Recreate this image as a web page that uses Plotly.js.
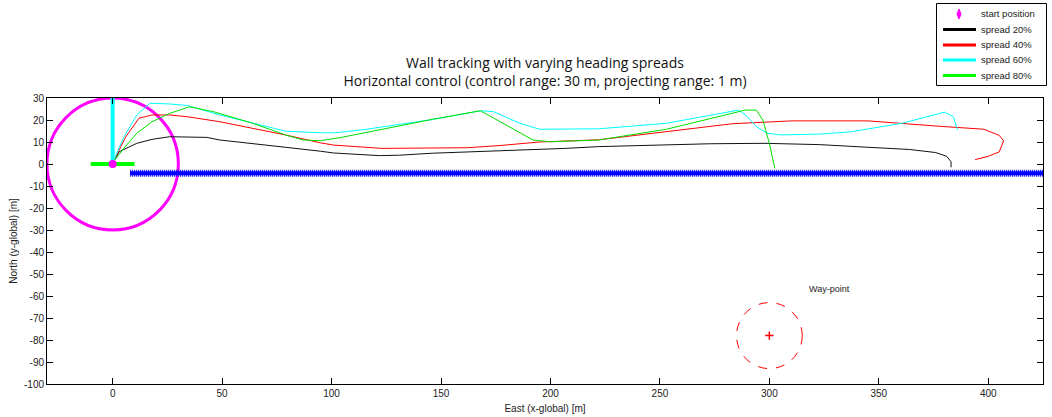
<!DOCTYPE html>
<html>
<head>
<meta charset="utf-8">
<script src="https://cdn.plot.ly/plotly-3.0.1.min.js"></script>
<style>html,body{margin:0;padding:0;background:#fff;}#chart{width:1052px;height:417px;}</style>
</head>
<body>
<div id="chart"></div>
<script>
// ---- data ----
const startX = [0];
const startY = [0];

const black20X = [0, 3, 11, 18, 26, 34, 43, 49, 64, 79, 95, 101, 122, 131, 146, 168, 192, 207, 222, 233, 273, 298, 323, 345, 364, 376, 381, 383, 383];
const black20Y = [0.5, 5.6, 9.4, 11.2, 12.4, 12.4, 12.1, 10.9, 9.4, 7.6, 5.8, 5.0, 3.8, 4.0, 4.9, 5.6, 6.4, 7.1, 7.9, 8.2, 9.2, 9.4, 8.8, 7.6, 6.6, 5.2, 3.5, 1.0, -1.5];

const red40X = [0, 6, 12, 18, 26, 34, 49, 64, 79, 95, 101, 123, 162, 177, 195, 222, 253, 283, 310, 345, 377, 398, 405, 407, 405, 400, 394];
const red40Y = [0.5, 12.4, 20.8, 22.3, 22.3, 21.5, 19.2, 16.2, 13.2, 9.6, 8.6, 7.1, 7.4, 8.4, 10.0, 11.0, 14.7, 18.3, 19.6, 19.6, 17.2, 15.8, 13.0, 10.5, 5.5, 3.5, 2.0];

const cyan60X = [0, 5, 11, 17, 26, 34, 49, 64, 79, 95, 102, 116, 146, 168, 174, 186, 195, 222, 253, 286, 290, 294, 299, 305, 323, 337, 361, 380, 384, 386];
const cyan60Y = [0.5, 12, 22.3, 27.6, 27.3, 26.6, 22.3, 18.5, 14.9, 14.2, 14.2, 15.8, 20.2, 24.2, 23.8, 18.5, 15.8, 16.0, 18.5, 24.5, 21.5, 17.0, 14.0, 13.2, 13.6, 14.6, 18.6, 23.6, 21.5, 15.5];

const green80X = [0, 5, 11, 18, 26, 35, 46, 64, 79, 87, 95, 104, 146, 168, 192, 200, 222, 253, 289, 294, 297, 300, 302.5];
const green80Y = [0.5, 7, 14, 19.2, 23, 26, 23.8, 18.5, 13.2, 10.9, 10.6, 12.0, 20.3, 24.2, 10.9, 10.1, 10.9, 15.8, 24.5, 24.5, 20.0, 9.4, -2.0];

const wallX = [8, 425];
const wallY = [-4.2, -4.2];

const headingGreenX = [-10, 10];
const headingGreenY = [0, 0];
const headingCyanX = [0, 0];
const headingCyanY = [0, 30];

const rangeCircle = {cx: 0, cy: 0, r: 30};
const waypointX = [300];
const waypointY = [-78];
const waypointR = 15;
const waypointLabel = "Way-point";
const waypointLabelPos = [317, -57];

const xTicks = [0, 50, 100, 150, 200, 250, 300, 350, 400];
const yTicks = [30, 20, 10, 0, -10, -20, -30, -40, -50, -60, -70, -80, -90, -100];

const seriesNames = ['start position', 'spread 20%', 'spread 40%', 'spread 60%', 'spread 80%'];
const seriesColors = ['#ff00ff', '#000000', '#ff0000', '#00ffff', '#00ff00'];

// ---- traces ----
const thin = 1;
const traces = [
  {x: wallX, y: wallY, mode: 'lines', line: {color: '#0000ff', width: 4}, showlegend: false},
  {x: wallX, y: wallY, mode: 'lines', line: {color: '#0000ff', width: 7, dash: '1px,1px'}, showlegend: false},
  {x: black20X, y: black20Y, mode: 'lines', name: seriesNames[1], line: {color: '#111111', width: thin}, showlegend: false},
  {x: red40X, y: red40Y, mode: 'lines', name: seriesNames[2], line: {color: '#ff0000', width: thin}, showlegend: false},
  {x: cyan60X, y: cyan60Y, mode: 'lines', name: seriesNames[3], line: {color: '#00ffff', width: thin}, showlegend: false},
  {x: green80X, y: green80Y, mode: 'lines', name: seriesNames[4], line: {color: '#00e000', width: thin}, showlegend: false},
  {x: headingGreenX, y: headingGreenY, mode: 'lines', line: {color: '#00ff00', width: 4}, showlegend: false},
  {x: headingCyanX, y: headingCyanY, mode: 'lines', line: {color: '#00ffff', width: 4}, showlegend: false},
  {x: startX, y: startY, mode: 'markers', name: seriesNames[0], marker: {symbol: 'circle', color: '#ff00ff', size: 8}, showlegend: false},
  {x: waypointX, y: waypointY, mode: 'markers', showlegend: false,
   marker: {symbol: 'cross-thin', size: 6, line: {color: '#ff0000', width: 1.5}}}
];

// ---- manual legend (pixel placement converted to paper coords) ----
const M = {l: 47, r: 9, t: 98, b: 33};
const W = 1052, H = 417;
const pw = W - M.l - M.r, ph = H - M.t - M.b;
const px = p => (p - M.l) / pw;
const py = p => (H - M.b - p) / ph;

const shapes = [
  {type: 'circle', xref: 'x', yref: 'y', layer: 'below',
   x0: rangeCircle.cx - rangeCircle.r, x1: rangeCircle.cx + rangeCircle.r,
   y0: rangeCircle.cy - rangeCircle.r, y1: rangeCircle.cy + rangeCircle.r,
   line: {color: '#ff00ff', width: 3}},
  {type: 'circle', xref: 'x', yref: 'y',
   x0: waypointX[0] - waypointR, x1: waypointX[0] + waypointR,
   y0: waypointY[0] - waypointR, y1: waypointY[0] + waypointR,
   line: {color: '#ff0000', width: 1, dash: 'dash'}},
  {type: 'rect', xref: 'paper', yref: 'paper', x0: px(936.5), x1: px(1046.5), y0: py(85.5), y1: py(3.5),
   line: {color: '#000', width: 1}, fillcolor: '#ffffff'}
];
const annotations = [
  {x: waypointLabelPos[0], y: waypointLabelPos[1], xref: 'x', yref: 'y', text: waypointLabel,
   showarrow: false, xanchor: 'left', yanchor: 'middle', font: {size: 9, color: '#222'}}
];
const legendRows = [14, 29.5, 45, 60, 75.5];
seriesNames.forEach((name, i) => {
  const yy = legendRows[i];
  if (i === 0) {
    const cx = 959;
    shapes.push({type: 'path', xref: 'paper', yref: 'paper',
      path: `M ${px(cx)} ${py(yy - 5)} L ${px(cx + 2)} ${py(yy)} L ${px(cx)} ${py(yy + 5)} L ${px(cx - 2)} ${py(yy)} Z`,
      fillcolor: seriesColors[i], line: {color: seriesColors[i], width: 1}});
  } else {
    shapes.push({type: 'line', xref: 'paper', yref: 'paper', x0: px(943), x1: px(976), y0: py(yy), y1: py(yy),
      line: {color: seriesColors[i], width: 3}});
  }
  annotations.push({xref: 'paper', yref: 'paper', x: px(979), y: py(yy), text: name, showarrow: false,
    xanchor: 'left', yanchor: 'middle', font: {family: 'Liberation Sans, Arial, sans-serif', size: 9.5, color: '#222'}});
});

const layout = {
  width: W, height: H,
  margin: M,
  paper_bgcolor: '#ffffff', plot_bgcolor: '#ffffff',
  font: {family: 'Liberation Sans, Arial, sans-serif', size: 10, color: '#222'},
  title: {
    text: 'Wall tracking with varying heading spreads<br>Horizontal control (control range: 30 m, projecting range: 1 m)',
    font: {family: 'Open Sans, sans-serif', size: 14, color: '#111'},
    x: 0.5, xref: 'paper', xanchor: 'center', y: 1 - 68 / H, yref: 'container', yanchor: 'middle'
  },
  xaxis: {
    range: [-30, 425], tickvals: xTicks, ticktext: xTicks.map(String),
    ticks: 'inside', ticklen: 6, tickcolor: '#000', mirror: 'ticks',
    showline: true, linecolor: '#000', linewidth: 1,
    showgrid: false, zeroline: false,
    tickfont: {size: 10, color: '#222'},
    title: {text: 'East (x-global) [m]', font: {size: 10, color: '#222'}, standoff: 6}
  },
  yaxis: {
    range: [-100, 30], tickvals: yTicks, ticktext: yTicks.map(String),
    ticks: 'inside', ticklen: 6, tickcolor: '#000', mirror: 'ticks',
    showline: true, linecolor: '#000', linewidth: 1,
    showgrid: false, zeroline: false,
    tickfont: {size: 10, color: '#222'},
    title: {text: 'North (y-global) [m]', font: {size: 10, color: '#222'}, standoff: 4}
  },
  shapes: shapes,
  annotations: annotations,
  showlegend: false
};

Plotly.newPlot('chart', traces, layout, {displayModeBar: false, staticPlot: true});
</script>
</body>
</html>
